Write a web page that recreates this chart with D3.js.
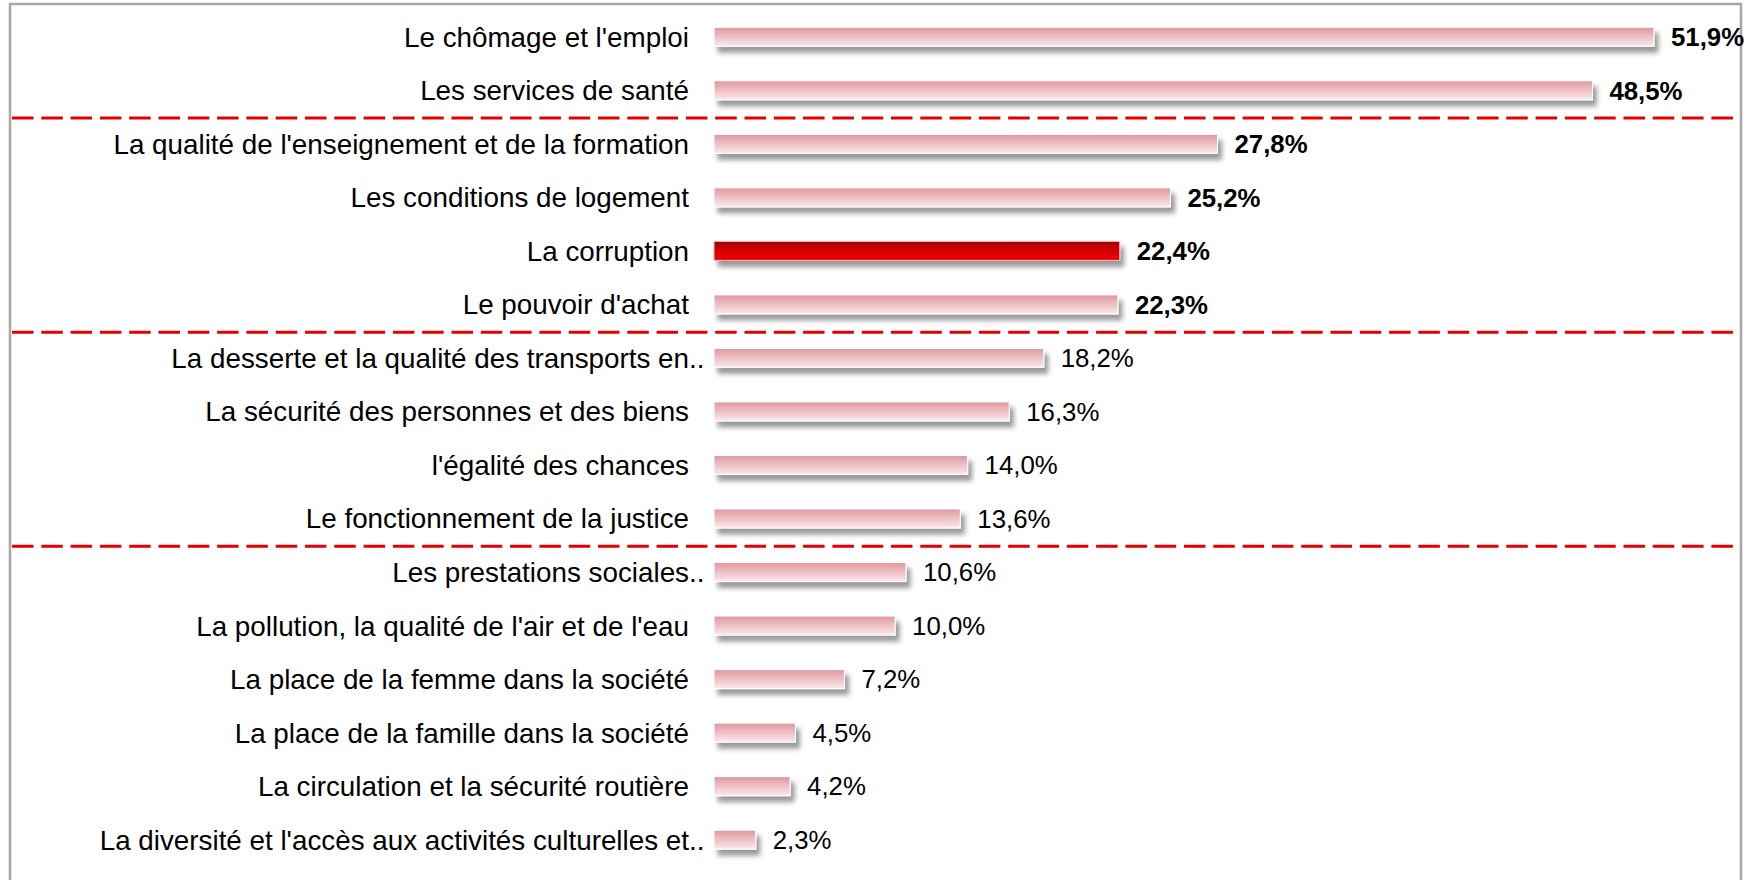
<!DOCTYPE html>
<html>
<head>
<meta charset="utf-8">
<script src="https://cdn.jsdelivr.net/npm/d3@7"></script>
<style>
  html, body { margin: 0; padding: 0; background: #fff; }
  svg { display: block; font-family: "Liberation Sans", Arial, sans-serif; }
</style>
</head>
<body>
<svg id="chart" width="1760" height="880"></svg>
<script>
// data
const categories = [
  "Le chômage et l'emploi",
  "Les services de santé",
  "La qualité de l'enseignement et de la formation",
  "Les conditions de logement",
  "La corruption",
  "Le pouvoir d'achat",
  "La desserte et la qualité des transports en..",
  "La sécurité des personnes et des biens",
  "l'égalité des chances",
  "Le fonctionnement de la justice",
  "Les prestations sociales..",
  "La pollution, la qualité de l'air et de l'eau",
  "La place de la femme dans la société",
  "La place de la famille dans la société",
  "La circulation et la sécurité routière",
  "La diversité et l'accès aux activités culturelles et.."
];
const values = [51.9, 48.5, 27.8, 25.2, 22.4, 22.3, 18.2, 16.3, 14.0, 13.6, 10.6, 10.0, 7.2, 4.5, 4.2, 2.3];
const highlighted = "La corruption";
// groups end after these rows (dashed separators)
const separatorsAfter = ["Les services de santé", "Le pouvoir d'achat", "Le fonctionnement de la justice"];
const boldAbove = 20;

const width = 1760, height = 880;
const svg = d3.select('#chart');

const x = d3.scaleLinear().domain([0, 51.9]).range([714, 1654]);
const y = d3.scaleBand()
  .domain(categories)
  .range([10, 866.4])
  .paddingInner(0.645)
  .paddingOuter(0.3225);

const defs = svg.append('defs');

function gradient(id, stops) {
  const g = defs.append('linearGradient')
    .attr('id', id)
    .attr('x1', 0).attr('y1', 0).attr('x2', 0).attr('y2', 1);
  g.selectAll('stop')
    .data(stops)
    .join('stop')
    .attr('offset', d => d[0])
    .attr('stop-color', d => d[1]);
}
gradient('pink', [['0%', '#dc99a0'], ['45%', '#ecbcc1'], ['100%', '#fbe9eb']]);
gradient('red', [['0%', '#a00000'], ['55%', '#d80000'], ['100%', '#f00000']]);

const shadow = defs.append('filter')
  .attr('id', 'shadow')
  .attr('x', '-10%').attr('y', '-50%')
  .attr('width', '130%').attr('height', '250%');
shadow.append('feDropShadow')
  .attr('dx', 4).attr('dy', 6)
  .attr('stdDeviation', 2.5)
  .attr('flood-color', '#000')
  .attr('flood-opacity', 0.4);

// frame
svg.append('rect')
  .attr('x', 10).attr('y', 4)
  .attr('width', 1731).attr('height', 900)
  .attr('fill', 'none')
  .attr('stroke', '#a6a6a6')
  .attr('stroke-width', 2.5);

// separators
const step = y.step();
svg.append('g')
  .selectAll('line')
  .data(separatorsAfter)
  .join('line')
  .attr('x1', 12)
  .attr('x2', 1734)
  .attr('y1', d => y(d) + y.bandwidth() / 2 + step / 2 + 1)
  .attr('y2', d => y(d) + y.bandwidth() / 2 + step / 2 + 1)
  .attr('stroke', '#e00000')
  .attr('stroke-width', 3)
  .attr('stroke-dasharray', '21.5 7.8');

const rows = svg.append('g')
  .selectAll('.row')
  .data(categories.map((c, i) => ({ cat: c, value: values[i] })))
  .join('g')
  .attr('class', 'row');

rows.append('rect')
  .attr('x', x(0))
  .attr('y', d => y(d.cat))
  .attr('width', d => x(d.value) - x(0))
  .attr('height', y.bandwidth())
  .attr('fill', d => d.cat === highlighted ? 'url(#red)' : 'url(#pink)')
  .attr('stroke', d => d.cat === highlighted ? '#f4b8b8' : '#fff')
  .attr('stroke-width', 1)
  .attr('filter', 'url(#shadow)');

// category labels (the ".." of cut labels hangs past the anchor)
const labelX = 689;
const labels = rows.append('g');
labels.append('text')
  .attr('x', labelX)
  .attr('y', d => y(d.cat) + y.bandwidth() / 2)
  .attr('dy', '0.36em')
  .attr('text-anchor', 'end')
  .attr('font-size', 27.8)
  .attr('fill', '#000')
  .text(d => d.cat.replace(/\.\.$/, ''));
labels.filter(d => d.cat.endsWith('..'))
  .append('text')
  .attr('x', labelX)
  .attr('y', d => y(d.cat) + y.bandwidth() / 2)
  .attr('dy', '0.36em')
  .attr('font-size', 27.8)
  .attr('fill', '#000')
  .text('..');

// value labels
const fmt = v => d3.format('.1f')(v).replace('.', ',') + '%';
rows.append('text')
  .attr('x', d => x(d.value) + 17)
  .attr('y', d => y(d.cat) + y.bandwidth() / 2)
  .attr('dy', '0.36em')
  .attr('font-size', 25.8)
  .attr('font-weight', d => d.value > boldAbove ? 'bold' : 'normal')
  .attr('fill', '#000')
  .text(d => fmt(d.value));
</script>
</body>
</html>
